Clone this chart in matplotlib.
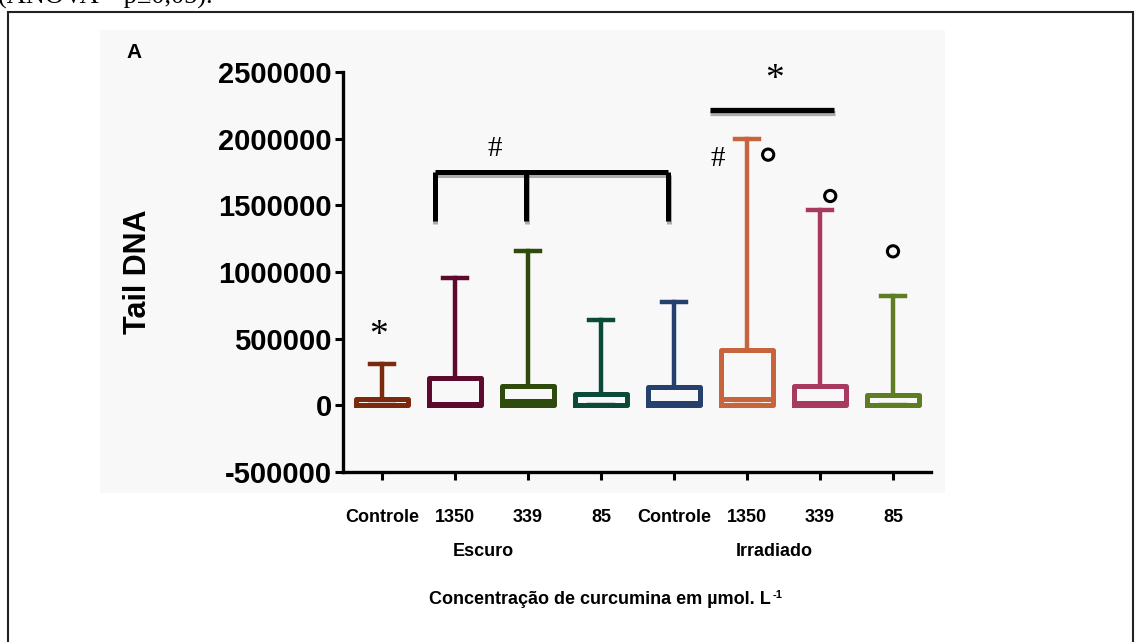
import matplotlib
matplotlib.use("Agg")
import matplotlib.pyplot as plt
import matplotlib.patches as mpatches
import matplotlib.patheffects as pe

# ----------------------
# Data: Tail DNA per group (box summary)
# ----------------------
groups = ["Controle", "1350", "339", "85", "Controle", "1350", "339", "85"]
q1 = [0, 0, 0, 0, 0, 0, 0, 0]
medians = [0, 12000, 30000, 5000, 15000, 45000, 20000, 5000]
q3 = [50000, 202000, 146000, 86000, 135000, 416000, 142000, 79000]
whis_lo = [0, 0, 0, 0, 0, 0, 0, 0]
whis_hi = [307000, 952000, 1155000, 641000, 772000, 2000000, 1462000, 821000]
outliers = [None, None, None, None, None, 1880000, 1570000, 1155000]
colors = ["#7B2A0E", "#5C0A2E", "#2E4A0C", "#0B4A3A",
          "#26406E", "#C8643C", "#A83A62", "#5E7D22"]
y_ticks = [-500000, 0, 500000, 1000000, 1500000, 2000000, 2500000]

W, H = 1136, 642
fig = plt.figure(figsize=(W / 100, H / 100), dpi=100)
fig.patch.set_facecolor("white")

# faint panel background and document frame
fig.patches.append(mpatches.Rectangle((100 / W, 1 - 493 / H), 845 / W, 463 / H,
                                      transform=fig.transFigure, facecolor="#f8f8f8",
                                      edgecolor="none", zorder=-5))
fig.patches.append(mpatches.Rectangle((8 / W, -0.1), 1125 / W, 1.1 - 12 / H,
                                      transform=fig.transFigure, facecolor="none",
                                      edgecolor="#222222", lw=1.5, zorder=5))

# caption line cut off at the top of the page
fig.text(-2 / W, 1 - 4 / H, "(ANOVA – p≤0,05).", family="Liberation Serif",
         fontsize=19, va="baseline", ha="left")

ax = fig.add_axes([343 / W, (H - 472) / H, (931 - 343) / W, 400 / H])
ax.patch.set_alpha(0)

x = list(range(1, len(groups) + 1))
stats = []
for i in range(len(groups)):
    stats.append(dict(med=medians[i], q1=q1[i], q3=q3[i],
                      whislo=whis_lo[i], whishi=whis_hi[i], fliers=[]))

bp = ax.bxp(stats, positions=x, widths=0.71, capwidths=0.32, showfliers=False)
for i, c in enumerate(colors):
    box = bp["boxes"][i]
    box.set_color(c)
    box.set_linewidth(3.6)
    box.set_solid_joinstyle("round")
    bp["medians"][i].set_color(c)
    bp["medians"][i].set_linewidth(3.6)
    for ln in bp["whiskers"][2 * i:2 * i + 2] + bp["caps"][2 * i:2 * i + 2]:
        ln.set_color(c)
        ln.set_linewidth(3.2)

# outlier markers, set a little to the right of their whisker
out_shift = [0, 0, 0, 0, 0, 0.29, 0.14, 0.0]
for xi, v, dx in zip(x, outliers, out_shift):
    if v is not None:
        ax.scatter(xi + dx, v, s=65, facecolors="none", edgecolors="black",
                   linewidths=2.2, zorder=4)

# significance annotations
shadow = [pe.SimpleLineShadow(offset=(0.5, -2), alpha=0.3), pe.Normal()]
ax.plot([1.72, 4.92], [1747500, 1747500], color="black", lw=3.6,
        solid_capstyle="butt", path_effects=shadow)
for bx in [1.72, 2.97, 4.92]:
    ax.plot([bx, bx], [1380000, 1747500], color="black", lw=3.6,
            solid_capstyle="butt", path_effects=shadow)
ax.text(2.55, 1920000, "#", fontsize=21, family="Liberation Serif",
        ha="center", va="center")
ax.plot([5.49, 7.19], [2212500, 2212500], color="black", lw=3.8,
        solid_capstyle="butt", path_effects=shadow)
ax.text(6.38, 2440000, "*", fontsize=27, family="Liberation Serif",
        ha="center", va="center")
ax.text(5.6, 1845000, "#", fontsize=21, family="Liberation Serif",
        ha="center", va="center")
ax.text(0.95, 520000, "*", fontsize=27, family="Liberation Serif",
        ha="center", va="center")

# axes styling
ax.set_xlim(1 - 39 / 73, 8 + 38 / 73)
ax.set_ylim(-500000, 2500000)
ax.set_yticks(y_ticks)
ax.set_yticklabels([str(v) for v in y_ticks], fontsize=21, fontweight="bold",
                   family="Liberation Sans")
ax.set_xticks(x)
ax.set_xticklabels(groups, fontsize=13, fontweight="bold", family="Liberation Sans")
ax.tick_params(axis="y", length=6, width=2.2, pad=2)
ax.tick_params(axis="x", length=6, width=2.2, pad=21)
for s in ["top", "right"]:
    ax.spines[s].set_visible(False)
for s in ["left", "bottom"]:
    ax.spines[s].set_linewidth(2.4)

ax.set_ylabel("Tail DNA", fontsize=22, fontweight="bold", family="Liberation Sans",
              labelpad=0)
ax.yaxis.set_label_coords(-(343 - 153) / (931 - 343), 0.5)

fig.text(483 / W, 1 - 551 / H, "Escuro", fontsize=13, fontweight="bold",
         family="Liberation Sans", ha="center", va="center")
fig.text(774 / W, 1 - 551 / H, "Irradiado", fontsize=13, fontweight="bold",
         family="Liberation Sans", ha="center", va="center")
title = fig.text(600 / W, 1 - 600 / H, "Concentração de curcumina em µmol. L",
                 fontsize=13, fontweight="bold", family="Liberation Sans",
                 ha="center", va="center")
ax.annotate("-1", xy=(1, 1), xycoords=title, xytext=(1, 1), textcoords="offset points",
            fontsize=8, fontweight="bold", family="Liberation Sans",
            ha="left", va="top", annotation_clip=False)
fig.text(134 / W, 1 - 52 / H, "A", fontsize=15, fontweight="bold",
         family="Liberation Sans", ha="center", va="center")

fig.savefig("out.png", dpi=100)
